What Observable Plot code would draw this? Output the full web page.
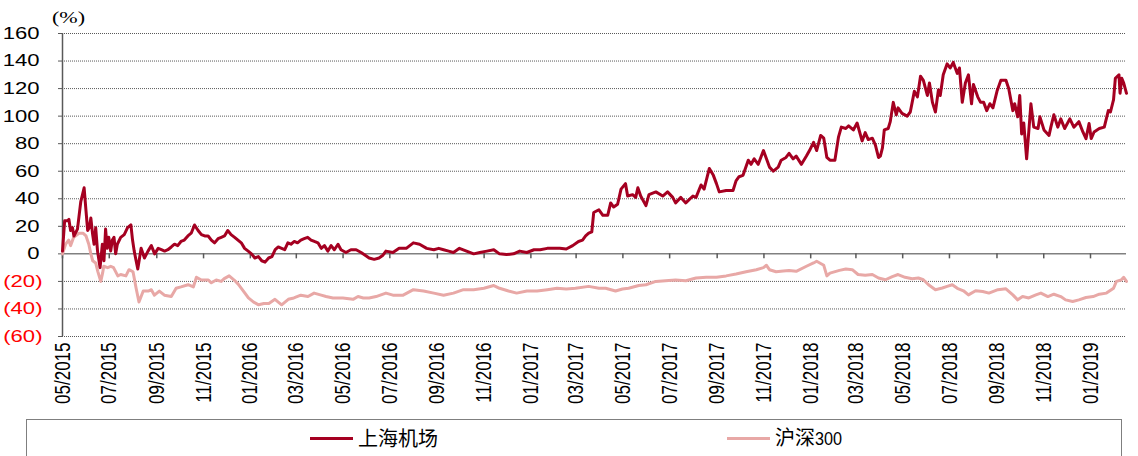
<!DOCTYPE html>
<html><head><meta charset="utf-8">
<script src="https://cdn.jsdelivr.net/npm/d3@7"></script>
<script src="https://cdn.jsdelivr.net/npm/@observablehq/plot@0.6"></script>
<style>
html,body{margin:0;padding:0;background:#fff;overflow:hidden;width:1138px;height:456px;}
#wrap{position:relative;width:1138px;height:456px;}
#chart{position:absolute;left:0;top:0;}
#unit{position:absolute;left:52px;top:8px;font:17px "Liberation Serif",serif;line-height:20px;transform:scaleX(1.3);transform-origin:left top;color:#000;}
#legend{position:absolute;left:26px;top:419px;width:1096px;height:60px;border:1px solid #7f7f7f;box-sizing:border-box;}
.item{position:absolute;top:0;height:36px;display:flex;align-items:center;}
.swatch{width:43px;height:3px;margin-right:5px;}
.lab{font-family:"Noto Sans CJK SC",sans-serif;font-size:20px;line-height:20px;color:#000;}
.num{font-family:"Liberation Sans",sans-serif;font-size:18px;display:inline-block;transform:scaleX(0.9);transform-origin:left center;}
</style></head>
<body><div id="wrap"><div id="chart"></div><div id="unit">(%)</div><div id="legend"></div></div>
<script>
// x = months since 05/2015 (fractional), y = cumulative return (%)
const seriesNames = ["上海机场", "沪深300"];
const seriesColors = ["#A50021", "#E8A8A6"];
const xTickLabels = ["05/2015","07/2015","09/2015","11/2015","01/2016","03/2016","05/2016","07/2016","09/2016","11/2016","01/2017","03/2017","05/2017","07/2017","09/2017","11/2017","01/2018","03/2018","05/2018","07/2018","09/2018","11/2018","01/2019"];
const yTicks = [-60,-40,-20,0,20,40,60,80,100,120,140,160];

const airport = [
[0.00,2],[0.09,24],[0.20,24],[0.27,25],[0.34,17],[0.42,19],[0.48,13],[0.63,18],[0.77,38],[0.91,48],
[0.99,31],[1.06,17],[1.13,19],[1.20,26],[1.27,15],[1.34,7],[1.41,19],[1.49,2],[1.60,-10],[1.70,7],
[1.77,-5],[1.84,18],[1.91,4],[1.98,12],[2.06,2],[2.13,10],[2.20,12],[2.27,0],[2.34,7],[2.48,12],
[2.63,14],[2.77,19],[2.91,21],[2.98,10],[3.05,2],[3.13,-5],[3.20,-11],[3.34,4],[3.48,-3],[3.63,2],
[3.77,6],[3.91,0],[4.06,4],[4.20,3],[4.34,2],[4.48,3],[4.63,5],[4.77,7],[4.91,6],[5.05,9],
[5.19,10],[5.34,13],[5.48,15],[5.62,21],[5.77,17],[5.91,14],[6.05,13],[6.20,13],[6.34,10],[6.48,8],
[6.63,11],[6.77,12],[6.91,13],[7.05,17],[7.19,14],[7.34,12],[7.48,10],[7.62,8],[7.76,4],[7.91,2],
[8.05,0],[8.19,-3],[8.34,-2],[8.48,-5],[8.62,-6],[8.77,-3],[8.91,-2],[9.05,3],[9.19,5],[9.34,4],
[9.48,3],[9.62,8],[9.76,7],[9.91,9],[10.05,8],[10.19,10],[10.33,11],[10.48,12],[10.62,10],[10.76,9],
[10.91,8],[11.05,4],[11.19,6],[11.34,2],[11.48,6],[11.62,3],[11.78,7],[11.91,3],[12.12,1],[12.33,3],
[12.55,3],[12.76,1],[12.93,-1],[13.10,-3],[13.32,-4],[13.53,-3],[13.70,-1],[13.83,2],[14.13,1],[14.39,4],
[14.69,4],[14.99,8],[15.25,7],[15.55,4],[15.85,3],[16.06,4],[16.27,3],[16.49,2],[16.70,1],[16.96,4],
[17.26,2],[17.56,0],[17.82,1],[18.12,2],[18.42,3],[18.67,0],[18.97,-0.5],[19.27,0],[19.53,2],[19.83,1],
[20.13,3],[20.39,3],[20.69,4],[20.99,4],[21.24,4],[21.54,3.5],[21.84,6],[22.10,9],[22.27,10],[22.40,13],
[22.53,15],[22.66,16],[22.74,30],[22.96,32],[23.13,28],[23.34,28],[23.47,37],[23.60,34],[23.77,36],[23.92,47],
[24.11,51],[24.20,42],[24.41,43],[24.54,41],[24.63,48],[24.75,42],[24.97,35],[25.10,43],[25.40,45],[25.70,42],
[25.91,45],[26.13,41],[26.25,37],[26.47,41],[26.68,37],[26.98,42],[27.11,41],[27.32,50],[27.45,47],[27.67,62],
[27.84,57],[27.97,51],[28.09,45],[28.39,46],[28.69,46],[28.82,53],[28.95,56],[29.12,57],[29.34,68],[29.46,65],
[29.59,69],[29.76,65],[29.98,75],[30.11,69],[30.24,63],[30.41,60],[30.62,63],[30.75,68],[30.96,70],[31.09,73],
[31.26,69],[31.39,71],[31.61,65],[31.82,71],[31.95,75],[32.12,81],[32.25,75],[32.42,86],[32.55,84],[32.68,70],
[32.81,68],[33.02,68],[33.19,85],[33.32,92],[33.53,91],[33.66,93],[33.88,90],[34.05,95],[34.26,82],[34.39,88],
[34.52,83],[34.69,84],[34.82,79],[34.95,70],[35.03,71],[35.12,77],[35.20,90],[35.37,91],[35.46,96],[35.59,110],
[35.72,101],[35.80,106],[35.97,102],[36.19,100],[36.32,103],[36.49,118],[36.62,114],[36.75,129],[36.87,126],[37.04,115],
[37.13,124],[37.26,110],[37.39,103],[37.52,119],[37.60,115],[37.73,130],[37.90,138],[38.03,135],[38.16,139],[38.33,131],
[38.42,135],[38.54,110],[38.67,124],[38.80,130],[38.93,109],[39.01,123],[39.19,114],[39.31,110],[39.44,110],[39.57,104],
[39.70,109],[39.83,106],[40.00,118],[40.17,126],[40.39,126],[40.51,120],[40.69,104],[40.77,109],[40.90,99.5],[40.99,115],
[41.07,87],[41.16,95],[41.28,69],[41.37,88.5],[41.46,109],[41.58,92],[41.76,91],[41.84,99.5],[42.01,90],[42.23,86],
[42.31,92],[42.44,101],[42.61,92],[42.74,98],[42.91,91],[43.13,98],[43.30,92],[43.51,96],[43.68,88.5],[43.81,83.7],
[43.94,94.6],[44.03,83.7],[44.15,88.5],[44.37,91],[44.58,92],[44.75,104],[44.84,103],[44.97,112],[45.05,127.5],[45.22,130],
[45.27,116.6],[45.35,127.5],[45.44,124],[45.57,116.6]
];

const csi300 = [
[0.00,0],[0.13,7],[0.26,10],[0.34,6],[0.47,12],[0.69,15],[0.86,15],[0.99,13],[1.11,7],[1.20,0],
[1.28,-5],[1.41,-6.6],[1.50,-12.7],[1.63,-20],[1.71,-14],[1.76,-9],[1.93,-10],[2.06,-9],[2.18,-10],[2.36,-16],
[2.48,-15],[2.70,-16],[2.83,-11.5],[3.00,-13],[3.13,-25],[3.25,-35],[3.43,-27],[3.64,-27],[3.77,-26],[3.90,-30],
[4.11,-27],[4.33,-30],[4.63,-31],[4.84,-25],[5.05,-24],[5.35,-22.4],[5.57,-24],[5.70,-17],[5.91,-19],[6.21,-19],
[6.34,-21],[6.55,-19],[6.77,-20],[6.90,-18],[7.11,-16],[7.32,-19],[7.49,-22],[7.71,-27],[7.92,-32],[8.14,-35],
[8.35,-37],[8.57,-36],[8.78,-36],[9.04,-33],[9.34,-37],[9.64,-33],[9.89,-32],[10.19,-30],[10.49,-31],[10.75,-28.5],
[11.05,-30],[11.26,-31],[11.56,-32],[11.99,-32],[12.42,-33],[12.63,-31],[12.85,-32],[13.10,-32],[13.40,-31],[13.83,-28.5],
[14.13,-30],[14.56,-30],[14.99,-26],[15.42,-27],[15.85,-28.5],[16.27,-30],[16.70,-28.5],[17.13,-26],[17.56,-26],[17.99,-25],
[18.42,-23],[18.67,-25],[19.06,-27],[19.40,-28.5],[19.83,-27],[20.26,-27],[20.69,-26],[21.11,-25],[21.54,-25.5],[21.97,-25],
[22.53,-23.6],[22.96,-25],[23.25,-25],[23.68,-27],[23.98,-25.5],[24.24,-25],[24.67,-23],[24.97,-22.4],[25.40,-20],[25.82,-19.5],
[26.25,-19],[26.68,-19.5],[27.11,-17.5],[27.54,-17],[27.97,-17],[28.39,-16],[28.82,-14.6],[29.25,-13],[29.68,-11.5],[29.98,-10],
[30.11,-8.3],[30.24,-11.5],[30.53,-13],[30.84,-12.5],[31.09,-12],[31.39,-12.7],[31.82,-9],[32.12,-6.6],[32.25,-5.4],[32.55,-8.3],
[32.68,-16],[32.81,-14],[33.23,-12],[33.53,-11],[33.83,-11.5],[34.09,-15],[34.39,-15.6],[34.69,-15],[34.95,-17.5],[35.25,-18.8],
[35.55,-16.5],[35.80,-15],[36.10,-17],[36.40,-18],[36.66,-17.5],[36.87,-18.8],[37.09,-22.4],[37.39,-26],[37.69,-24.8],[37.90,-23.6],
[38.12,-22.4],[38.33,-25],[38.59,-26.8],[38.80,-29.8],[39.10,-26.8],[39.40,-27.3],[39.66,-28.5],[40.04,-26],[40.39,-25.4],[40.69,-29.8],
[40.90,-33.4],[41.11,-31],[41.37,-32],[41.67,-29.8],[41.88,-28.5],[42.18,-31],[42.44,-29.3],[42.74,-31],[42.95,-33.4],[43.25,-34.6],
[43.51,-33.4],[43.81,-31.7],[44.11,-31],[44.37,-29.3],[44.67,-28.5],[44.97,-25],[45.10,-20],[45.32,-19],[45.44,-17],[45.57,-20]
];

// convert fractional month offset (from May 2015) to a date
function toDate(m) {
  const k = Math.floor(m), f = m - k;
  const a = Date.UTC(2015, 4 + k, 1), b = Date.UTC(2015, 5 + k, 1);
  return new Date(a + f * (b - a));
}

const parseM = d3.utcParse("%m/%Y");
const xTicks = xTickLabels.map(parseM);
const start = toDate(airport[0][0]);
const end = toDate(airport[airport.length - 1][0]);

const chart = Plot.plot({
  width: 1138, height: 419,
  marginLeft: 62, marginRight: 12, marginTop: 33, marginBottom: 83,
  style: {fontFamily: '"Liberation Sans", Arial, sans-serif', fontSize: "17px", background: "transparent", color: "#000", overflow: "visible"},
  x: {type: "utc", domain: [start, end]},
  y: {domain: [yTicks[0], yTicks[yTicks.length - 1]]},
  marks: [
    Plot.gridY(yTicks.filter(d => d !== 0), {stroke: "#595959", strokeOpacity: 1, strokeDasharray: "1,1"}),
    Plot.ruleY([0], {stroke: "#808080", strokeWidth: 1.5}),
    Plot.ruleX(xTicks, {x: d => d, y1: 0, y2: 0, insetBottom: -5, stroke: "#595959", strokeWidth: 1.5}),
    Plot.ruleX([start], {stroke: "#595959", strokeWidth: 1.5}),
    Plot.axisY(yTicks, {tickSize: 4, tickFormat: () => "", stroke: "#595959", label: null}),
    Plot.axisY(yTicks.filter(d => d >= 0), {tickSize: 0, tickPadding: 23, color: "#000", tickFormat: d => String(d), label: null}),
    Plot.axisY(yTicks.filter(d => d < 0), {tickSize: 0, tickPadding: 20, color: "#ff0000", tickFormat: d => `(${-d})`, label: null}),
    Plot.axisX(xTicks, {anchor: "bottom", tickSize: 0, tickPadding: 6, tickRotate: -90, tickFormat: d3.utcFormat("%m/%Y"), color: "#000", label: null}),
    Plot.line(csi300, {x: d => toDate(d[0]), y: d => d[1], stroke: seriesColors[1], strokeWidth: 3, strokeLinejoin: "round"}),
    Plot.line(airport, {x: d => toDate(d[0]), y: d => d[1], stroke: seriesColors[0], strokeWidth: 3, strokeLinejoin: "round"})
  ]
});

// horizontally stretch axis label glyphs like the reference's widened font
function stretch(sel, sx, sy) {
  chart.querySelectorAll(sel).forEach(t => {
    let tr = t.getAttribute("transform") || "";
    const x = t.getAttribute("x");
    if (x != null && /^-?[\d.]+$/.test(x.trim())) {
      tr += ` translate(${x},0)`;
      t.setAttribute("x", 0);
    }
    t.setAttribute("transform", `${tr} scale(${sx},${sy})`);
  });
}
stretch('g[aria-label="y-axis tick label"] text', 1.3, 1);
stretch('g[aria-label="x-axis tick label"] text', 1, 1.3);

document.getElementById("chart").appendChild(chart);

// legend
const legend = d3.select("#legend");
const lefts = [283, 700];
seriesNames.forEach((name, i) => {
  const item = legend.append("div").attr("class", "item").style("left", lefts[i] + "px");
  item.append("div").attr("class", "swatch").style("background", seriesColors[i]);
  const lab = item.append("span").attr("class", "lab");
  const m = name.match(/^(\D*)(\d*)$/);
  lab.append("span").text(m[1]);
  if (m[2]) lab.append("span").attr("class", "num").text(m[2]);
});
</script>
</body></html>
